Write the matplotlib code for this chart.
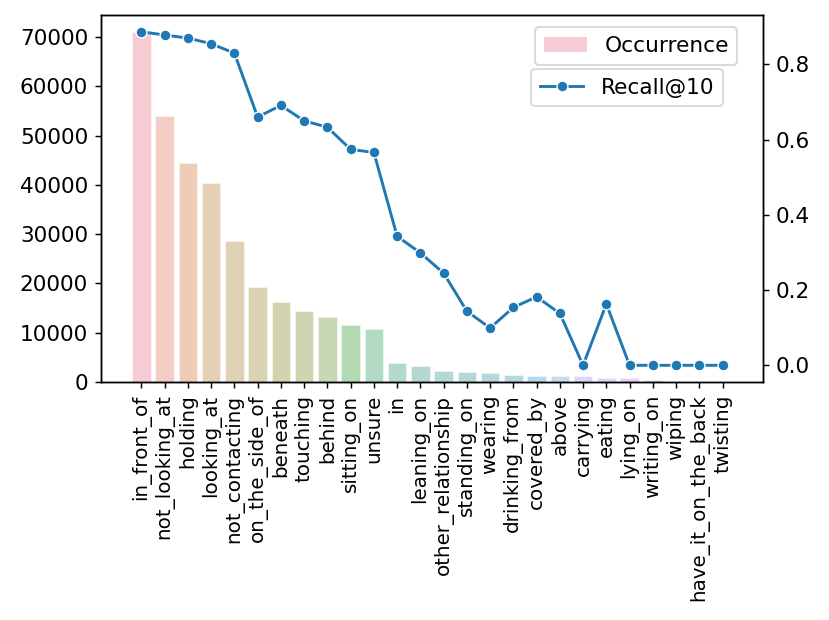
import numpy as np
import matplotlib
matplotlib.use("Agg")
import matplotlib.pyplot as plt
import seaborn as sns
from matplotlib.patches import Patch
from matplotlib.lines import Line2D

# data
relations = ["in_front_of", "not_looking_at", "holding", "looking_at", "not_contacting",
             "on_the_side_of", "beneath", "touching", "behind", "sitting_on", "unsure",
             "in", "leaning_on", "other_relationship", "standing_on", "wearing",
             "drinking_from", "covered_by", "above", "carrying", "eating", "lying_on",
             "writing_on", "wiping", "have_it_on_the_back", "twisting"]
occurrence = [70900, 53900, 44500, 40300, 28500, 19200, 16300, 14300, 13100, 11600, 10800,
              3900, 3200, 2200, 2050, 1800, 1400, 1250, 1200, 1150, 900, 750,
              320, 60, 30, 20]
recall10 = [0.887, 0.878, 0.870, 0.855, 0.830, 0.660, 0.691, 0.650, 0.633, 0.574, 0.566,
            0.343, 0.299, 0.245, 0.144, 0.099, 0.154, 0.182, 0.138, 0.0, 0.163, 0.0,
            0.0, 0.0, 0.0, 0.0]

dpi = 130
fig = plt.figure(figsize=(829 / dpi, 620 / dpi), dpi=dpi)
ax = fig.add_axes([0.1215, 0.3839, 0.7992, 0.5919])

x = np.arange(len(relations))
# seaborn barplot style: husl palette, desaturated to .75
colors = [sns.desaturate(c, 0.75) for c in sns.husl_palette(len(relations))]
ax.bar(x, occurrence, width=0.8, color=colors, alpha=0.4, edgecolor="white", linewidth=0.6)
ax.set_ylim(0, max(occurrence) * 1.05)
ax.set_xticks(x)
ax.set_xticklabels(relations, rotation=90, fontsize=11)
ax.tick_params(axis="y", labelsize=12)

ax2 = ax.twinx()
ax2.plot(x, recall10, color="#1f77b4", lw=1.6, marker="o", markersize=6,
         markeredgecolor="white", markeredgewidth=0.75)
ax2.tick_params(axis="y", labelsize=12)
ax.set_xlim(-1.75, len(relations) + 0.75)

leg1 = ax2.legend(handles=[Patch(facecolor=colors[0], alpha=0.4, label="Occurrence")],
                  loc="upper right", bbox_to_anchor=(0.961, 0.966), fontsize=12,
                  borderaxespad=0)
ax2.add_artist(leg1)
ax2.legend(handles=[Line2D([], [], color="#1f77b4", lw=1.6, marker="o", markersize=6,
                           markeredgecolor="white", markeredgewidth=0.75, label="Recall@10")],
           loc="upper left", bbox_to_anchor=(0.650, 0.853), fontsize=12, borderaxespad=0)

fig.savefig("out.png", dpi=dpi)
